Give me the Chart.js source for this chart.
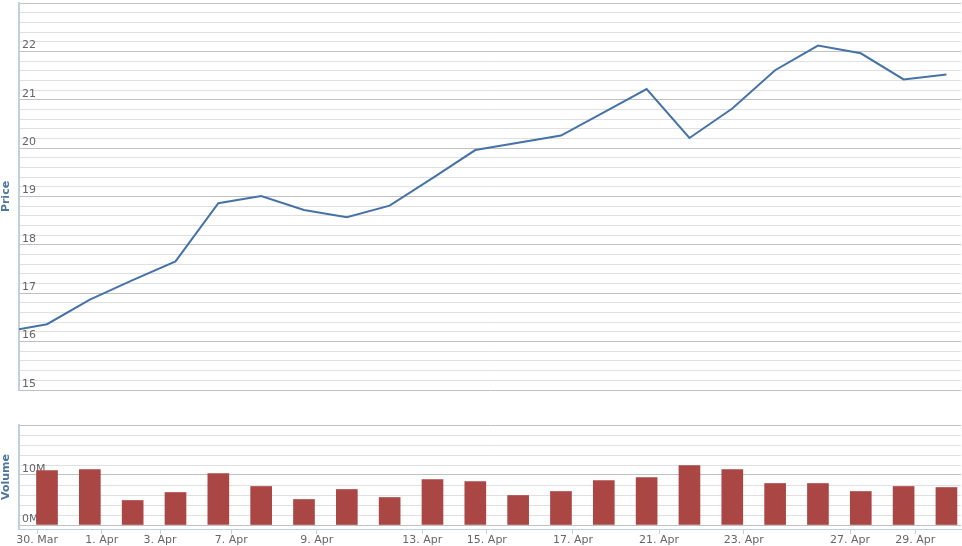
<!DOCTYPE html>
<html>
<head>
<meta charset="utf-8">
<title>Price / Volume</title>
<script src="https://cdn.jsdelivr.net/npm/chart.js@4.4.1/dist/chart.umd.min.js"></script>
<style>
    html, body { margin: 0; padding: 0; background: #fff; }
    #wrap { position: relative; width: 962px; height: 546px; overflow: hidden; }
    .panel { position: absolute; left: 0; }
    #pricePanel { top: 0; }
    #volumePanel { top: 420px; }
</style>
</head>
<body>
<div id="wrap">
    <div class="panel" id="pricePanel"><canvas id="priceChart" width="962" height="395"></canvas></div>
    <div class="panel" id="volumePanel"><canvas id="volumeChart" width="962" height="126"></canvas></div>
</div>
<script>
// x axis is ordinal: one slot per trading day, 0 = 30 Mar session
const tickLabels = ['30. Mar', '1. Apr', '3. Apr', '7. Apr', '9. Apr', '13. Apr', '15. Apr', '17. Apr', '21. Apr', '23. Apr', '27. Apr', '29. Apr'];
const tickSlots = [-0.23, 1.28, 2.64, 4.3, 6.3, 8.76, 10.27, 12.28, 14.29, 16.27, 18.75, 20.27];

// first price is the session before the visible range (line enters from the left edge)
const priceValues = [16.20, 16.36, 16.87, 17.27, 17.66, 18.86, 19.01, 18.72, 18.57, 18.81, 19.38,
    19.96, 20.11, 20.26, 20.74, 21.22, 20.21, 20.82, 21.61, 22.12, 21.96, 21.42, 21.52];
// volume in millions
const volumeValues = [10.9, 11.1, 4.9, 6.5, 10.3, 7.7, 5.1, 7.1, 5.5, 9.1, 8.7,
    5.9, 6.7, 8.9, 9.5, 11.9, 11.1, 8.3, 8.3, 6.7, 7.7, 7.5];

const priceTicks = [15, 16, 17, 18, 19, 20, 21, 22];
const volumeTicks = [0, 10];

const X_MIN = -0.654, X_MAX = 21.34;
const FONT = 'DejaVu Sans, Verdana, sans-serif';
const AXIS_BLUE = '#c0d0e0';

document.addEventListener('DOMContentLoaded', () => {
    Chart.defaults.font.family = FONT;
    Chart.defaults.animation = false;
    initPriceChart();
    initVolumeChart();
});

const isWhole = v => Math.abs(v - Math.round(v)) < 1e-6;

function yAxisCommon(title, min, max, step, labelled, fmt, majorEvery) {
    return {
        position: 'left',
        min: min,
        max: max,
        grid: {
            drawTicks: false,
            color: c => {
                const v = c.tick.value;
                if (v < 0) return 'rgba(0,0,0,0)';
                return isWhole(v / majorEvery) ? '#c0c0c0' : '#e0e0e0';
            },
            lineWidth: 1
        },
        border: { display: true, color: AXIS_BLUE, width: 2 },
        ticks: {
            stepSize: step,
            mirror: true,
            padding: 3,
            labelOffset: -6,
            autoSkip: false,
            color: '#666',
            font: { size: 11 },
            callback: v => labelled.some(t => Math.abs(t - v) < 1e-6) ? fmt(v) : ''
        },
        title: {
            display: true,
            text: title,
            color: '#4d759e',
            font: { size: 11, weight: 'bold' },
            padding: { top: 0, bottom: 0 }
        },
        afterBuildTicks: s => {
            // the 0 line sits just above the axis floor; keep it even when it crowds the min tick
            if (s.min < 0 && !s.ticks.some(t => Math.abs(t.value) < 1e-9)) {
                s.ticks.splice(1, 0, { value: 0 });
            }
        },
        afterFit: s => { s.width = 19; s.paddingTop = 0; s.paddingBottom = 0; }
    };
}

// 1. PRICE PANEL
function initPriceChart() {
    const ctx = document.getElementById('priceChart').getContext('2d');
    new Chart(ctx, {
        type: 'line',
        data: {
            datasets: [{
                label: 'Price',
                data: priceValues.map((v, i) => ({ x: i - 1, y: v })),
                borderColor: '#4572a7',
                borderWidth: 2,
                pointRadius: 0,
                tension: 0,
                fill: false
            }]
        },
        options: {
            responsive: false,
            devicePixelRatio: 1,
            layout: { padding: { top: 3, bottom: 5, left: 0, right: 1 } },
            plugins: { legend: { display: false }, tooltip: { enabled: false } },
            scales: {
                x: { type: 'linear', display: false, min: X_MIN, max: X_MAX },
                y: yAxisCommon('Price', 15, 23, 0.2, priceTicks, v => String(Math.round(v)), 1)
            }
        }
    });
}

// 2. VOLUME PANEL
function initVolumeChart() {
    const ctx = document.getElementById('volumeChart').getContext('2d');
    new Chart(ctx, {
        type: 'bar',
        data: {
            datasets: [{
                label: 'Volume',
                data: volumeValues.map((v, i) => ({ x: i, y: v })),
                backgroundColor: '#aa4643',
                borderWidth: 0,
                barThickness: 21
            }]
        },
        options: {
            responsive: false,
            devicePixelRatio: 1,
            layout: { padding: { top: 5, bottom: 0, left: 0, right: 1 } },
            plugins: { legend: { display: false }, tooltip: { enabled: false } },
            scales: {
                x: {
                    type: 'linear',
                    min: X_MIN,
                    max: X_MAX,
                    offset: false,
                    grid: { offset: false, drawOnChartArea: false, drawTicks: true, tickLength: 5, color: AXIS_BLUE },
                    border: { display: true, color: AXIS_BLUE, width: 1 },
                    afterBuildTicks: s => { s.ticks = tickSlots.map(v => ({ value: v })); },
                    ticks: {
                        autoSkip: false,
                        maxRotation: 0,
                        padding: 0,
                        color: '#666',
                        font: { size: 11 },
                        callback: (v, i) => tickLabels[i]
                    },
                    afterFit: s => { s.height = 17; s.paddingLeft = 0; s.paddingRight = 0; }
                },
                y: yAxisCommon('Volume', -0.8, 20, 2, volumeTicks, v => Math.round(v) + 'M', 10)
            }
        }
    });
}
</script>
</body>
</html>
